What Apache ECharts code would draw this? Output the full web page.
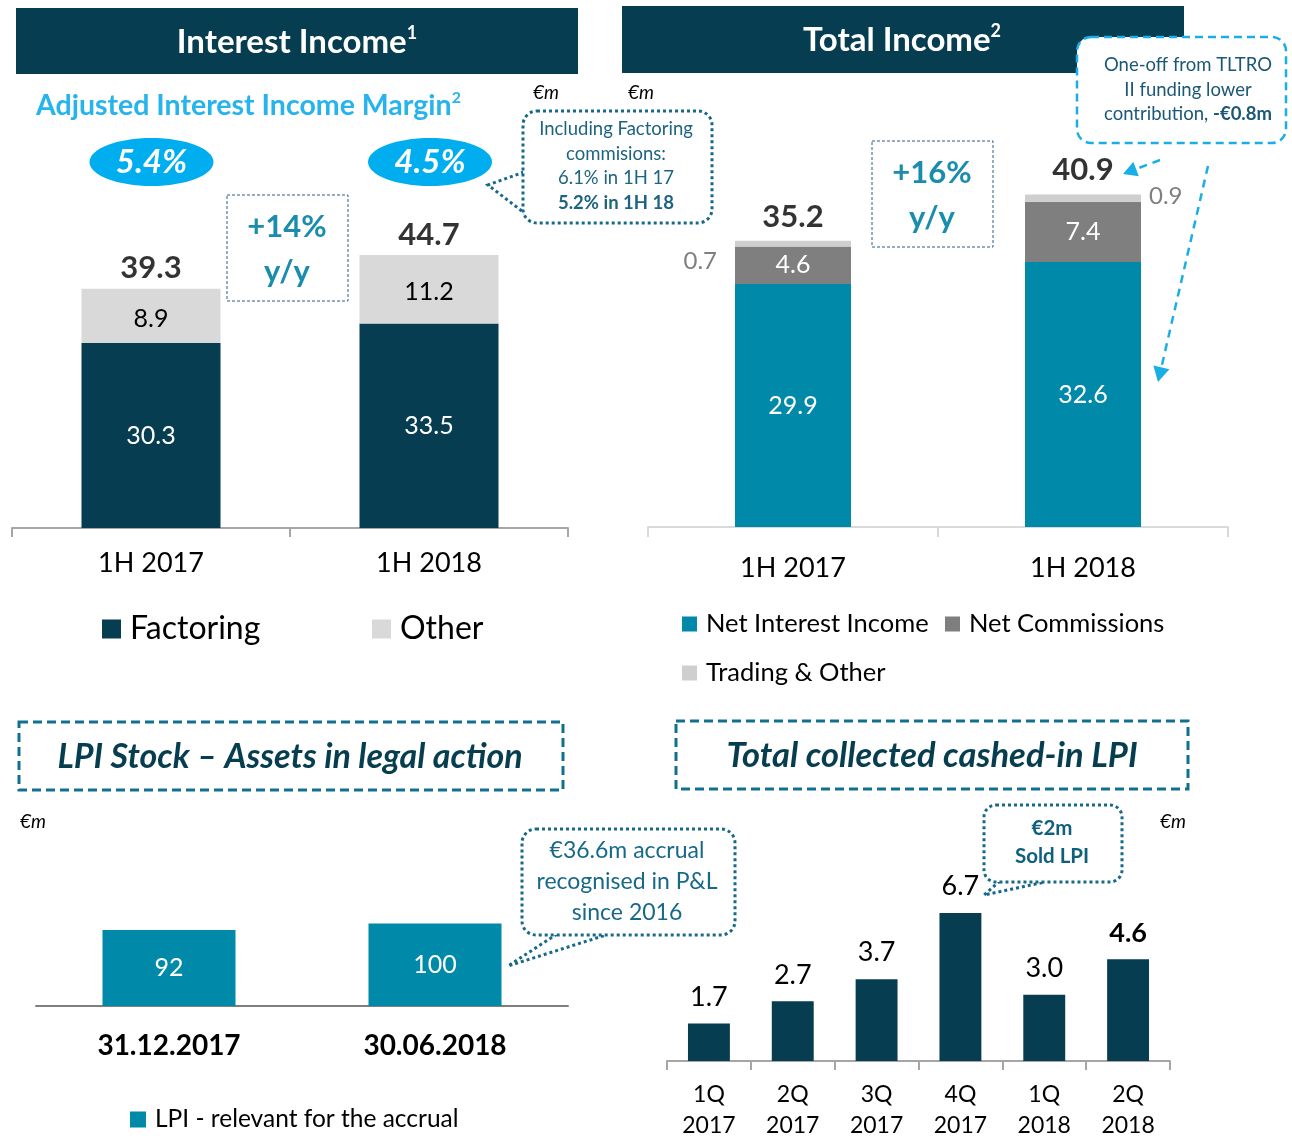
<!DOCTYPE html>
<html>
<head>
<meta charset="utf-8">
<script src="https://cdn.jsdelivr.net/npm/echarts@6/dist/echarts.min.js"></script>
<style>
html,body{margin:0;padding:0;background:#fff;}
#chart{width:1292px;height:1144px;}
</style>
</head>
<body>
<div id="chart"></div>
<script>
// ---- data ----
const iiCategories = ['1H 2017', '1H 2018'];
const iiFactoring = [30.3, 33.5];
const iiOther = [8.9, 11.2];
const iiTotals = [39.3, 44.7];
const iiMargins = ['5.4%', '4.5%'];

const tiCategories = ['1H 2017', '1H 2018'];
const tiNetInterest = [29.9, 32.6];
const tiCommissions = [4.6, 7.4];
const tiTrading = [0.7, 0.9];
const tiTotals = [35.2, 40.9];

const lpiCategories = ['31.12.2017', '30.06.2018'];
const lpiStock = [92, 100];

const cashCategories = ['1Q 2017', '2Q 2017', '3Q 2017', '4Q 2017', '1Q 2018', '2Q 2018'];
const cashValues = [1.7, 2.7, 3.7, 6.7, 3.0, 4.6];

// ---- styles ----
const FONT = 'Lato, "Open Sans", sans-serif';
const NAVY = '#063d50';
const TEAL = '#0089a9';
const GREY = '#7f7f7f';
const LIGHT = '#d9d9d9';
const TRADE = '#cfcfcf';
const SKY = '#00aeef';
const CALL = '#17698a';

function arrow(from, tip, size, color) {
  const dx = tip[0] - from[0], dy = tip[1] - from[1];
  const len = Math.sqrt(dx * dx + dy * dy);
  const ux = dx / len, uy = dy / len;
  const px = -uy, py = ux;
  const bx = tip[0] - ux * size, by = tip[1] - uy * size;
  return [
    {type: 'polyline', shape: {points: [from, [bx, by]]}, style: {stroke: color, lineWidth: 2.5, lineDash: [8, 6], fill: null}},
    {type: 'polygon', shape: {points: [tip, [bx + px * size * 0.55, by + py * size * 0.55], [bx - px * size * 0.55, by - py * size * 0.55]]}, style: {fill: color}}
  ];
}

function txt(x, y, text, opts) {
  return {type: 'text', z: 10, style: Object.assign({x: x, y: y, text: text, align: 'center', verticalAlign: 'middle', fontFamily: FONT, fill: '#000'}, opts)};
}

const chart = echarts.init(document.getElementById('chart'), null, {renderer: 'canvas'});

const graphic = [
  // Top headers
  {type: 'rect', shape: {x: 16, y: 8, width: 562, height: 66}, style: {fill: NAVY}},
  txt(297, 42, '{t|Interest Income}{s|1}', {rich: {
    t: {fontSize: 33, fontWeight: 'bold', fill: '#fff', fontFamily: FONT, lineHeight: 36},
    s: {fontSize: 18, fontWeight: 'bold', fill: '#fff', fontFamily: FONT, verticalAlign: 'top', lineHeight: 36}
  }}),
  {type: 'rect', shape: {x: 622, y: 6, width: 562, height: 67}, style: {fill: NAVY}},
  txt(902, 40, '{t|Total Income}{s|2}', {rich: {
    t: {fontSize: 33, fontWeight: 'bold', fill: '#fff', fontFamily: FONT, lineHeight: 36},
    s: {fontSize: 18, fontWeight: 'bold', fill: '#fff', fontFamily: FONT, verticalAlign: 'top', lineHeight: 36}
  }}),
  // Adjusted margin title
  txt(36, 106, '{t|Adjusted Interest Income Margin}{s|2}', {align: 'left', rich: {
    t: {fontSize: 28.5, fontWeight: 'bold', fill: '#27b3ec', fontFamily: FONT, lineHeight: 32},
    s: {fontSize: 16, fontWeight: 'bold', fill: '#27b3ec', fontFamily: FONT, verticalAlign: 'top', lineHeight: 32}
  }}),
  // margin ellipses
  {type: 'ellipse', shape: {cx: 151.5, cy: 162, rx: 62, ry: 24}, style: {fill: SKY}},
  txt(151.5, 162, iiMargins[0], {fill: '#fff', fontSize: 33, fontWeight: 'bold', fontStyle: 'italic'}),
  {type: 'ellipse', shape: {cx: 430, cy: 162, rx: 62, ry: 24}, style: {fill: SKY}},
  txt(430, 162, iiMargins[1], {fill: '#fff', fontSize: 33, fontWeight: 'bold', fontStyle: 'italic'}),
  // +14% box
  {type: 'rect', shape: {x: 227, y: 195, width: 121, height: 106}, style: {fill: null, stroke: '#2b5d8c', lineWidth: 1, lineDash: [3, 2]}},
  txt(287, 227, '+14%', {fill: '#1a8cad', fontSize: 31, fontWeight: 'bold'}),
  txt(287, 272, 'y/y', {fill: '#1a8cad', fontSize: 31, fontWeight: 'bold'}),
  // +16% box
  {type: 'rect', shape: {x: 872, y: 141, width: 121, height: 106}, style: {fill: null, stroke: '#2b5d8c', lineWidth: 1, lineDash: [3, 2]}},
  txt(932, 173, '+16%', {fill: '#1a8cad', fontSize: 31, fontWeight: 'bold'}),
  txt(932, 218, 'y/y', {fill: '#1a8cad', fontSize: 31, fontWeight: 'bold'}),
  // €m labels
  txt(546, 93, '€m', {fontSize: 19, fontStyle: 'italic'}),
  txt(641, 93, '€m', {fontSize: 19, fontStyle: 'italic'}),
  txt(33, 822, '€m', {fontSize: 19, fontStyle: 'italic'}),
  txt(1173, 822, '€m', {fontSize: 19, fontStyle: 'italic'}),
  // Factoring commissions callout
  {type: 'polyline', shape: {points: [[524, 172], [488, 185], [527, 215]]}, style: {stroke: CALL, lineWidth: 3, lineDash: [3, 3], fill: null}},
  {type: 'rect', shape: {x: 523, y: 111, width: 189, height: 112, r: 14}, style: {fill: '#fff', stroke: CALL, lineWidth: 3, lineDash: [3, 3]}},
  txt(616, 166, 'Including Factoring\ncommisions:\n6.1% in 1H 17\n{b|5.2% in 1H 18}', {fill: '#1c6480', fontSize: 18.5, lineHeight: 24.5, rich: {
    b: {fontWeight: 'bold', fontSize: 18.5, fill: '#1c6480', fontFamily: FONT, lineHeight: 24.5}
  }}),
  // TLTRO callout
  {type: 'rect', z: 5, shape: {x: 1077, y: 37, width: 209, height: 106, r: 14}, style: {fill: '#fff', stroke: '#1aaee6', lineWidth: 2.5, lineDash: [8, 5]}},
  txt(1188, 90, 'One-off from TLTRO\nII funding lower\ncontribution, {b|-€0.8m}', {fill: '#1a5876', fontSize: 18.5, lineHeight: 24.5, rich: {
    b: {fontWeight: 'bold', fontSize: 18.5, fill: '#1a5876', fontFamily: FONT, lineHeight: 24.5}
  }}),
  ...arrow([1160, 160], [1123, 174], 14, '#1aaee6'),
  ...arrow([1208, 166], [1158, 382], 15, '#1aaee6'),
  // Bottom headers
  {type: 'rect', shape: {x: 19, y: 722, width: 544, height: 68}, style: {fill: null, stroke: '#12708f', lineWidth: 3, lineDash: [9, 5]}},
  txt(290, 757, 'LPI Stock – Assets in legal action', {fill: '#073e4f', fontSize: 34, fontWeight: 'bold', fontStyle: 'italic'}),
  {type: 'rect', shape: {x: 676, y: 721, width: 512, height: 68}, style: {fill: null, stroke: '#12708f', lineWidth: 3, lineDash: [9, 5]}},
  txt(932, 756, 'Total collected cashed-in LPI', {fill: '#073e4f', fontSize: 34.5, fontWeight: 'bold', fontStyle: 'italic'}),
  // accrual callout
  {type: 'polyline', shape: {points: [[557, 934], [508, 966], [606, 935]]}, style: {stroke: CALL, lineWidth: 3, lineDash: [3, 3], fill: null}},
  {type: 'rect', shape: {x: 522, y: 829, width: 213, height: 106, r: 14}, style: {fill: '#fff', stroke: CALL, lineWidth: 3, lineDash: [3, 3]}},
  txt(627, 882, '€36.6m accrual\nrecognised in P&L\nsince 2016', {fill: '#17698a', fontSize: 23, lineHeight: 31}),
  // Sold LPI callout
  {type: 'polyline', shape: {points: [[1000, 881], [984, 895], [1045, 882]]}, style: {stroke: CALL, lineWidth: 3, lineDash: [3, 3], fill: null}},
  {type: 'rect', shape: {x: 984, y: 805, width: 138, height: 77, r: 12}, style: {fill: '#fff', stroke: CALL, lineWidth: 3, lineDash: [3, 3]}},
  txt(1052, 842, '€2m\nSold LPI', {fill: '#0f5f7e', fontSize: 20.5, fontWeight: 'bold', lineHeight: 28})
];

function legendItem(name, left, top, size, fontSize) {
  return {
    data: [name], left: left, top: top, icon: 'rect', itemWidth: size, itemHeight: size,
    selectedMode: false, padding: 0,
    textStyle: {fontSize: fontSize, color: '#000', fontFamily: FONT, padding: [0, 0, 0, 4]}
  };
}

const hiddenY = (grid, max) => ({type: 'value', gridIndex: grid, min: 0, max: max, show: false});

const option = {
  animation: false,
  backgroundColor: '#fff',
  textStyle: {fontFamily: FONT},
  graphic: graphic,
  legend: [
    legendItem('Factoring', 102, 613, 19, 32),
    legendItem('Other', 372, 613, 19, 32),
    legendItem('Net Interest Income', 682, 611, 15, 25.5),
    legendItem('Net Commissions', 945, 611, 15, 25.5),
    legendItem('Trading & Other', 682, 660, 15, 25.5),
    legendItem('LPI - relevant for the accrual', 130, 1107, 16, 24.5)
  ],
  grid: [
    {left: 12, top: 222.7, width: 556, height: 305.3},
    {left: 648, top: 120.5, width: 580, height: 406.5},
    {left: 36, top: 840.8, width: 532, height: 165.2},
    {left: 667, top: 840, width: 503, height: 221}
  ],
  xAxis: [
    {type: 'category', gridIndex: 0, data: iiCategories,
      axisLine: {lineStyle: {color: '#a6a6a6', width: 2}},
      axisTick: {show: true, interval: 0, length: 9, lineStyle: {color: '#a6a6a6', width: 2}},
      axisLabel: {fontSize: 27, color: '#000', margin: 22, fontFamily: FONT}},
    {type: 'category', gridIndex: 1, data: tiCategories,
      axisLine: {lineStyle: {color: '#d9d9d9', width: 2}},
      axisTick: {show: true, interval: 0, length: 10, lineStyle: {color: '#d9d9d9', width: 2}},
      axisLabel: {fontSize: 27, color: '#000', margin: 28, fontFamily: FONT}},
    {type: 'category', gridIndex: 2, data: lpiCategories,
      axisLine: {lineStyle: {color: '#7f7f7f', width: 2}},
      axisTick: {show: false},
      axisLabel: {fontSize: 28, color: '#000', fontWeight: 'bold', margin: 26, fontFamily: FONT}},
    {type: 'category', gridIndex: 3, data: cashCategories,
      axisLine: {lineStyle: {color: '#a6a6a6', width: 2}},
      axisTick: {show: true, interval: 0, length: 9, lineStyle: {color: '#a6a6a6', width: 2}},
      axisLabel: {fontSize: 23, color: '#000', margin: 18, lineHeight: 31, fontFamily: FONT,
        formatter: v => v.replace(' ', '\n')}}
  ],
  yAxis: [hiddenY(0, 50), hiddenY(1, 50), hiddenY(2, 200), hiddenY(3, 10)],
  series: [
    // Interest income
    {name: 'Factoring', type: 'bar', xAxisIndex: 0, yAxisIndex: 0, stack: 'ii', barWidth: '50%',
      data: iiFactoring, itemStyle: {color: NAVY},
      label: {show: true, position: 'inside', color: '#fff', fontSize: 25, fontFamily: FONT, formatter: p => p.value.toFixed(1)}},
    {name: 'Other', type: 'bar', xAxisIndex: 0, yAxisIndex: 0, stack: 'ii', barWidth: '50%',
      data: iiOther, itemStyle: {color: LIGHT},
      label: {show: true, position: 'inside', color: '#000', fontSize: 25, fontFamily: FONT, offset: [0, 3], formatter: p => p.value.toFixed(1)}},
    {name: 'iiTotal', type: 'scatter', xAxisIndex: 0, yAxisIndex: 0, data: iiTotals, symbolSize: 1, silent: true,
      itemStyle: {color: 'rgba(0,0,0,0)'},
      label: {show: true, position: 'top', distance: 4, color: '#000', fontSize: 31, fontWeight: 'bold', fontFamily: FONT, formatter: p => p.value.toFixed(1)}},
    // Total income
    {name: 'Net Interest Income', type: 'bar', xAxisIndex: 1, yAxisIndex: 1, stack: 'ti', barWidth: '40%',
      data: tiNetInterest, itemStyle: {color: TEAL},
      label: {show: true, position: 'inside', color: '#fff', fontSize: 25, fontFamily: FONT, formatter: p => p.value.toFixed(1)}},
    {name: 'Net Commissions', type: 'bar', xAxisIndex: 1, yAxisIndex: 1, stack: 'ti', barWidth: '40%',
      data: tiCommissions, itemStyle: {color: GREY},
      label: {show: true, position: 'inside', color: '#fff', fontSize: 25, fontFamily: FONT, formatter: p => p.value.toFixed(1)}},
    {name: 'Trading & Other', type: 'bar', xAxisIndex: 1, yAxisIndex: 1, stack: 'ti', barWidth: '40%',
      data: tiTrading.map((v, i) => ({value: v, label: i === 0 ? {position: 'left', distance: 18, offset: [0, 18]} : {position: 'right', distance: 8, offset: [0, -2]}})),
      itemStyle: {color: TRADE},
      label: {show: true, color: GREY, fontSize: 24, fontFamily: FONT, formatter: p => p.value.toFixed(1)}},
    {name: 'tiTotal', type: 'scatter', xAxisIndex: 1, yAxisIndex: 1, data: tiTotals, symbolSize: 1, silent: true,
      itemStyle: {color: 'rgba(0,0,0,0)'},
      label: {show: true, position: 'top', distance: 8, color: '#000', fontSize: 31, fontWeight: 'bold', fontFamily: FONT, formatter: p => p.value.toFixed(1)}},
    // LPI stock
    {name: 'LPI - relevant for the accrual', type: 'bar', xAxisIndex: 2, yAxisIndex: 2, barWidth: '50%',
      data: lpiStock, itemStyle: {color: TEAL},
      label: {show: true, position: 'inside', color: '#fff', fontSize: 25, fontFamily: FONT}},
    // Cashed-in LPI
    {name: 'Cashed-in LPI', type: 'bar', xAxisIndex: 3, yAxisIndex: 3, barWidth: '50%',
      data: cashValues.map((v, i) => i === cashValues.length - 1 ? {value: v, label: {fontWeight: 'bold'}} : v),
      itemStyle: {color: NAVY},
      label: {show: true, position: 'top', distance: 13, color: '#000', fontSize: 27, fontFamily: FONT, formatter: p => p.value.toFixed(1)}}
  ]
};

chart.setOption(option);
</script>
</body>
</html>
